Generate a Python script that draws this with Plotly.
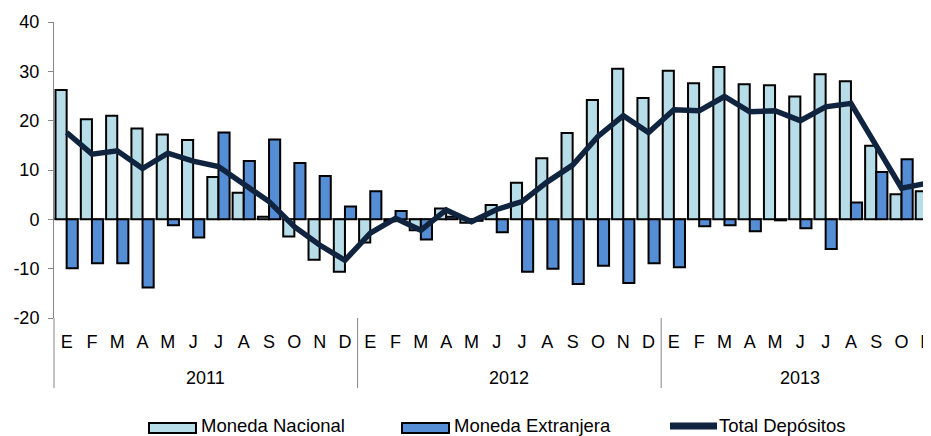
import plotly.graph_objects as go

# ---------------- data ----------------
years = ["2011", "2012", "2013"]
month_labels = ["E", "F", "M", "A", "M", "J", "J", "A", "S", "O", "N", "D"]
months_per_year = [12, 12, 11]

nacional_2011 = [26.2, 20.3, 21.0, 18.4, 17.2, 16.1, 8.6, 5.4, 0.5, -3.5, -8.2, -10.6]
nacional_2012 = [-4.7, -0.4, -2.2, 2.2, -0.7, 2.9, 7.4, 12.4, 17.5, 24.2, 30.5, 24.6]
nacional_2013 = [30.1, 27.6, 30.9, 27.4, 27.2, 24.9, 29.4, 28.0, 14.9, 5.1, 5.7]

extranjera_2011 = [-9.9, -8.9, -8.9, -13.8, -1.2, -3.7, 17.6, 11.8, 16.2, 11.4, 8.8, 2.6]
extranjera_2012 = [5.7, 1.7, -4.1, 0.5, -0.3, -2.6, -10.6, -10.0, -13.1, -9.4, -12.9, -8.9]
extranjera_2013 = [-9.7, -1.4, -1.2, -2.4, -0.2, -1.8, -6.0, 3.4, 9.6, 12.2, 14.4]

total_2011 = [17.6, 13.2, 13.9, 10.3, 13.4, 11.8, 10.7, 7.0, 3.6, -1.5, -5.2, -8.3]
total_2012 = [-2.8, 0.2, -2.2, 1.9, -0.5, 2.0, 3.6, 7.6, 11.0, 16.8, 21.0, 17.6]
total_2013 = [22.2, 22.0, 24.9, 21.8, 22.0, 20.0, 22.8, 23.5, 14.9, 6.3, 7.3]

y_ticks = [-20, -10, 0, 10, 20, 30, 40]
y_tick_text = ["-20", "-10", "0", "10", "20", "30", "40"]
series_names = ["Moneda Nacional", "Moneda Extranjera", "Total Depósitos"]

# ---------------- build ----------------
x_month = []
for n in months_per_year:
    x_month += month_labels[:n]
x_idx = list(range(len(x_month)))

nacional = nacional_2011 + nacional_2012 + nacional_2013
extranjera = extranjera_2011 + extranjera_2012 + extranjera_2013
total = total_2011 + total_2012 + total_2013

C_NAC = "#B7DEE8"
C_EXT = "#558ED5"
C_TOT = "#10243F"
AX = "#868686"
FONT = "Liberation Sans, Arial, sans-serif"

OFF = 8  # page body margin
W, H = 931 - OFF, 436 - OFF
ML, MR, MT, MB = 54 - OFF, 0, 22 - OFF, 118
PW, PH = W - ML - MR, H - MT - MB
slot = 25.3
x_range = [-0.5, -0.5 + PW / slot]

fig = go.Figure()
fig.add_trace(go.Bar(x=x_idx, y=nacional, name=series_names[0],
                     marker=dict(color=C_NAC, line=dict(color="black", width=2))))
fig.add_trace(go.Bar(x=x_idx, y=extranjera, name=series_names[1],
                     marker=dict(color=C_EXT, line=dict(color="black", width=2))))
fig.add_trace(go.Scatter(x=x_idx, y=total, name=series_names[2], mode="lines",
                         line=dict(color=C_TOT, width=5.5)))


def px(xp):  # window pixel -> paper
    return (xp - OFF - ML) / PW


def py(yp):
    return (H - MB - (yp - OFF)) / PH


def xv(v):
    return (v - x_range[0]) / (x_range[1] - x_range[0])


shapes = []
annotations = []
# left axis extension and year dividers
start = 0
bounds = [start - 0.5]
for n in months_per_year:
    start += n
    bounds.append(start - 0.5)
for b in bounds:
    shapes.append(dict(type="line", xref="paper", yref="paper", x0=xv(b), x1=xv(b),
                       y0=0, y1=py(388), line=dict(color=AX, width=1)))
# year labels
for i, yr in enumerate(years):
    c = (bounds[i] + bounds[i + 1]) / 2
    annotations.append(dict(xref="paper", yref="paper", x=xv(c), y=py(378), text=yr,
                            showarrow=False, xanchor="center", yanchor="middle",
                            font=dict(family=FONT, size=18, color="black")))

# custom legend
leg_y = 425
items = [(149, series_names[0], "bar", C_NAC),
         (402, series_names[1], "bar", C_EXT),
         (667, series_names[2], "line", C_TOT)]
for x0, name, kind, col in items:
    if kind == "bar":
        shapes.append(dict(type="rect", xref="paper", yref="paper",
                           x0=px(x0), x1=px(x0 + 47), y0=py(leg_y - 2), y1=py(leg_y + 8),
                           fillcolor=col, line=dict(color="black", width=2)))
    else:
        shapes.append(dict(type="line", xref="paper", yref="paper",
                           x0=px(x0 + 3), x1=px(x0 + 50), y0=py(leg_y + 1), y1=py(leg_y + 1),
                           line=dict(color=col, width=7)))
    annotations.append(dict(xref="paper", yref="paper", x=px(x0 + 51), y=py(leg_y),
                            text=name, showarrow=False, xanchor="left", yanchor="middle",
                            borderpad=0,
                            font=dict(family=FONT, size=18.5, color="black")))

fig.update_layout(
    template="none",
    width=W, height=H,
    margin=dict(l=ML, r=MR, t=MT, b=MB, autoexpand=False),
    paper_bgcolor="white", plot_bgcolor="white",
    barmode="group", bargap=0.12, bargroupgap=0,
    showlegend=False,
    shapes=shapes, annotations=annotations,
    font=dict(family=FONT, size=18, color="black"),
)
fig.update_xaxes(range=x_range, tickvals=x_idx, ticktext=x_month,
                 showgrid=False, showline=False, zeroline=False, automargin=False,
                 ticks="", ticklabelstandoff=11, ticklabeloverflow="allow",
                 tickfont=dict(family=FONT, size=18, color="black"))
fig.update_yaxes(range=[-20, 40], tickvals=y_ticks, ticktext=y_tick_text,
                 showgrid=False, automargin=False,
                 showline=True, linecolor=AX, linewidth=1,
                 ticks="outside", ticklen=5, tickcolor=AX, ticklabelstandoff=5,
                 zeroline=True, zerolinecolor=AX, zerolinewidth=1.5,
                 tickfont=dict(family=FONT, size=18, color="black"))

fig.write_html("out.html")
